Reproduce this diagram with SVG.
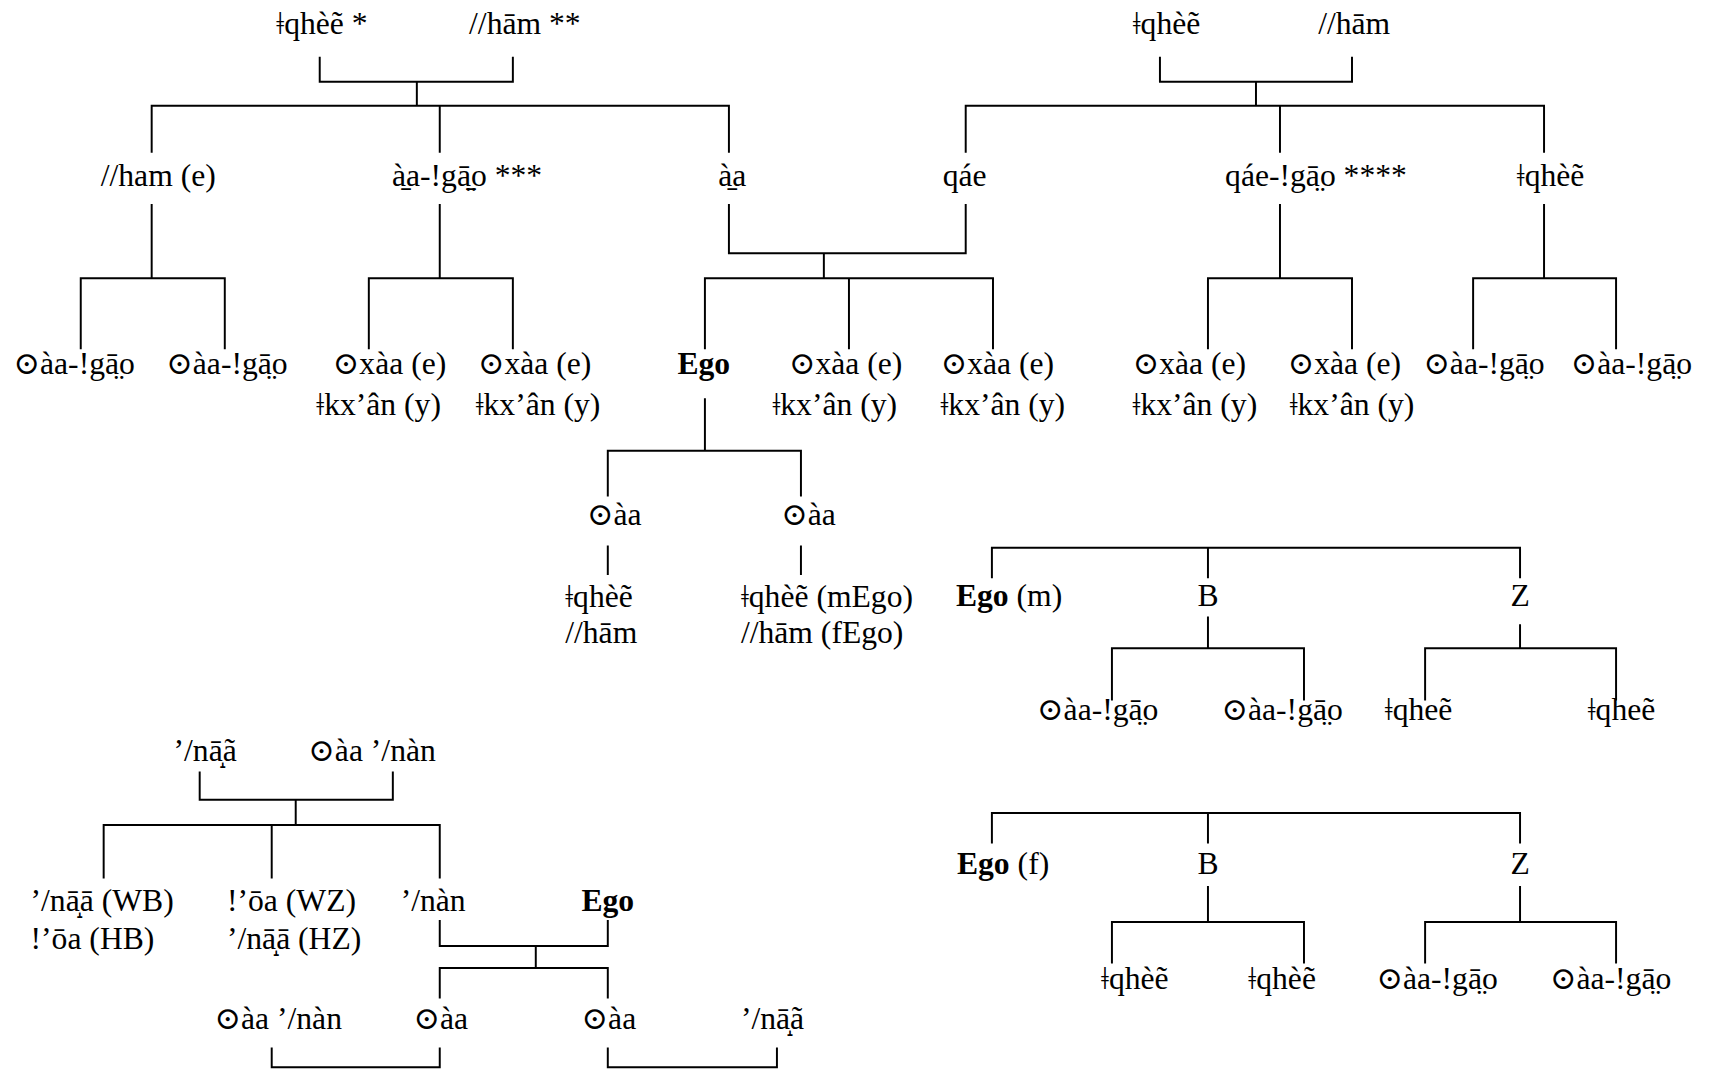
<svg xmlns="http://www.w3.org/2000/svg" width="1711" height="1069" viewBox="0 0 1711 1069">
<style>
text{font-family:"Liberation Serif","DejaVu Serif",serif;font-size:29px;fill:#000}
.m{text-anchor:middle}
.b{font-weight:bold}
#connectors path{fill:none;stroke:#000;stroke-width:1.8}
</style>
<rect width="1711" height="1069" fill="#fff"/>
<g transform="scale(1.0912)">
<g id="connectors">
<path d="M293,52 V75 H470 V52 M382,75 V97 M139,140 V97 H668 V140 M403,97 V140"/>
<path d="M1063,52 V75 H1239 V52 M1151,75 V97 M885,140 V97 H1415 V140 M1173,97 V140"/>
<path d="M139,187 V255 M74,320 V255 H206 V320"/>
<path d="M403,187 V255 M338,320 V255 H470 V320"/>
<path d="M668,187 V232 H885 V187 M755,232 V255 M646,320 V255 H910 V320 M778,255 V320"/>
<path d="M1173,187 V255 M1107,320 V255 H1239 V320"/>
<path d="M1415,187 V255 M1350,320 V255 H1481 V320"/>
<path d="M646,365 V413 M557,455 V413 H734 V455 M557,500 V527 M734,500 V527"/>
<path d="M909,530 V502 H1393 V530 M1107,502 V530 M1107,565 V594 M1019,642 V594 H1195 V642 M1393,572 V594 M1306,642 V594 H1481 V642"/>
<path d="M909,773 V745 H1393 V773 M1107,745 V773 M1107,812 V845 M1019,883 V845 H1195 V883 M1393,812 V845 M1306,883 V845 H1481 V883"/>
<path d="M183,707 V733 H360 V707 M271,733 V756 M95,805 V756 H403 V805 M249,756 V805"/>
<path d="M403,843 V867 H557 V843 M491,867 V887 M403,915 V887 H557 V915"/>
<path d="M249,960 V978 H403 V960 M557,960 V978 H712 V960"/>
</g>
<g id="n1"><text class="m" x="295" y="31">ǂqhèẽ *</text></g>
<g id="n2"><text class="m" x="481" y="31">//hām **</text></g>
<g id="n3"><text class="m" x="145" y="170">//ham (e)</text></g>
<g id="n4"><text class="m" x="428" y="170">à̱a-!gā̱̤o ***</text></g>
<g id="n5"><text class="m" x="671" y="170">à̱a</text></g>
<g id="n6"><text class="m" x="884" y="170">qáe</text></g>
<g id="n7"><text class="m" x="1069" y="31">ǂqhèẽ</text></g>
<g id="n8"><text class="m" x="1241" y="31">//hām</text></g>
<g id="n9"><text class="m" x="1206" y="170">qáe-!gā̤o ****</text></g>
<g id="n10"><text class="m" x="1421" y="170">ǂqhèẽ</text></g>
<g id="n11"><text class="m" x="68" y="343">⊙àa-!gā̤o</text></g>
<g id="n12"><text class="m" x="208" y="343">⊙àa-!gā̤o</text></g>
<g id="n13"><text class="m" x="357" y="343">⊙xàa (e)</text><text class="m" x="347" y="380">ǂkx’ân (y)</text></g>
<g id="n14"><text class="m" x="490" y="343">⊙xàa (e)</text><text class="m" x="493" y="380">ǂkx’ân (y)</text></g>
<g id="n15"><text class="m b" x="645" y="343">Ego</text></g>
<g id="n16"><text class="m" x="775" y="343">⊙xàa (e)</text><text class="m" x="765" y="380">ǂkx’ân (y)</text></g>
<g id="n17"><text class="m" x="914" y="343">⊙xàa (e)</text><text class="m" x="919" y="380">ǂkx’ân (y)</text></g>
<g id="n18"><text class="m" x="1090" y="343">⊙xàa (e)</text><text class="m" x="1095" y="380">ǂkx’ân (y)</text></g>
<g id="n19"><text class="m" x="1232" y="343">⊙xàa (e)</text><text class="m" x="1239" y="380">ǂkx’ân (y)</text></g>
<g id="n20"><text class="m" x="1360" y="343">⊙àa-!gā̤o</text></g>
<g id="n21"><text class="m" x="1495" y="343">⊙àa-!gā̤o</text></g>
<g id="n22"><text class="m" x="563" y="481">⊙àa</text></g>
<g id="n23"><text class="m" x="741" y="481">⊙àa</text></g>
<g id="n24"><text x="518" y="556">ǂqhèẽ</text><text x="518" y="589">//hām</text></g>
<g id="n25"><text x="679" y="556">ǂqhèẽ (mEgo)</text><text x="679" y="589">//hām (fEgo)</text></g>
<g id="n26"><text x="876" y="555"><tspan class="b">Ego</tspan> (m)</text></g>
<g id="n27"><text class="m" x="1107" y="555">B</text></g>
<g id="n28"><text class="m" x="1393" y="555">Z</text></g>
<g id="n29"><text class="m" x="1006" y="660">⊙àa-!gā̤o</text></g>
<g id="n30"><text class="m" x="1175" y="660">⊙àa-!gā̤o</text></g>
<g id="n31"><text class="m" x="1300" y="660">ǂqheẽ</text></g>
<g id="n32"><text class="m" x="1486" y="660">ǂqheẽ</text></g>
<g id="n33"><text x="877" y="801"><tspan class="b">Ego</tspan> (f)</text></g>
<g id="n34"><text class="m" x="1107" y="801">B</text></g>
<g id="n35"><text class="m" x="1393" y="801">Z</text></g>
<g id="n36"><text class="m" x="1040" y="906">ǂqhèẽ</text></g>
<g id="n37"><text class="m" x="1175" y="906">ǂqhèẽ</text></g>
<g id="n38"><text class="m" x="1317" y="906">⊙àa-!gā̤o</text></g>
<g id="n39"><text class="m" x="1476" y="906">⊙àa-!gā̤o</text></g>
<g id="n40"><text class="m" x="188" y="697">’/nā̝ã</text></g>
<g id="n41"><text class="m" x="341" y="697">⊙àa ’/nàn</text></g>
<g id="n42"><text x="28" y="835">’/nā̝ā (WB)</text><text x="28" y="870">!’ōa (HB)</text></g>
<g id="n43"><text x="208" y="835">!’ōa (WZ)</text><text x="208" y="870">’/nā̝ā (HZ)</text></g>
<g id="n44"><text class="m" x="397" y="835">’/nàn</text></g>
<g id="n45"><text class="m b" x="557" y="835">Ego</text></g>
<g id="n46"><text class="m" x="255" y="943">⊙àa ’/nàn</text></g>
<g id="n47"><text class="m" x="404" y="943">⊙àa</text></g>
<g id="n48"><text class="m" x="558" y="943">⊙àa</text></g>
<g id="n49"><text class="m" x="708" y="943">’/nā̝ã</text></g>
</g>
</svg>
